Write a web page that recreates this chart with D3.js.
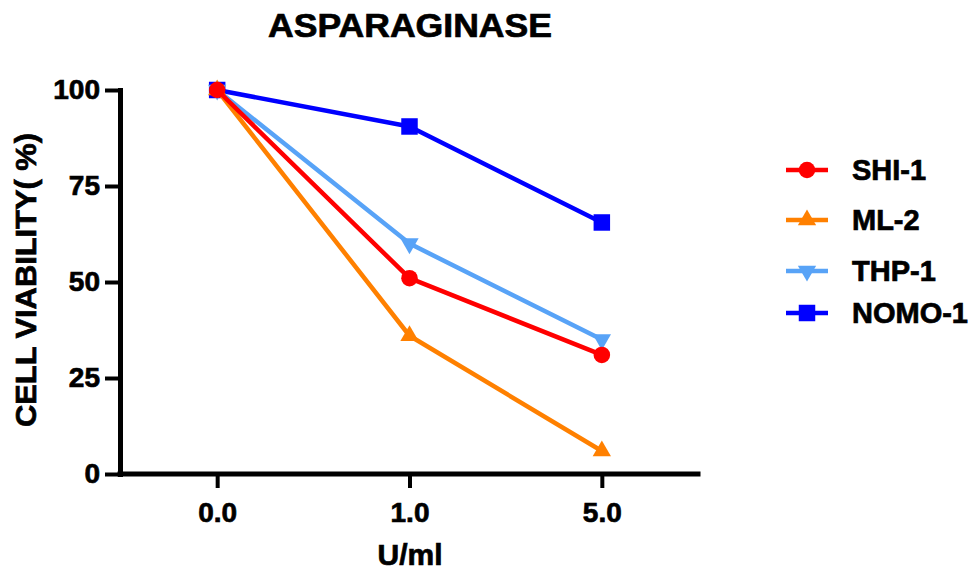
<!DOCTYPE html>
<html>
<head>
<meta charset="utf-8">
<script src="https://cdn.jsdelivr.net/npm/d3@7"></script>
<style>
  html, body { margin: 0; padding: 0; background: #fff; }
  svg text { font-family: "Liberation Sans", Arial, sans-serif; font-weight: bold; fill: #000; stroke: #000; stroke-width: 0.7px; }
</style>
</head>
<body>
<svg id="chart" width="973" height="571"></svg>
<script>
// Doses (U/ml) shown as evenly spaced categories
const doses = ["0.0", "1.0", "5.0"];
const yTicks = [0, 25, 50, 75, 100];

// Cell viability (%) per cell line
const series = ["SHI-1", "ML-2", "THP-1", "NOMO-1"];
const shi1  = [100, 51, 31];
const ml2   = [100, 36, 6];
const thp1  = [100, 60, 35];
const nomo1 = [100, 90.5, 65.5];
const values = [shi1, ml2, thp1, nomo1];

const colors  = ["#ff0000", "#ff8000", "#58a3f7", "#0000ff"];
const symbols = ["circle", "triangle", "triangleDown", "square"];

const svg = d3.select("#chart");

const x = d3.scalePoint().domain(doses).range([121, 698]).padding(0.5);
const y = d3.scaleLinear().domain([0, 100]).range([474, 90]);

function symbolPath(kind) {
  if (kind === "circle") return d3.symbol(d3.symbolCircle, 215)();
  if (kind === "square") return d3.symbol(d3.symbolSquare, 272)();
  return d3.symbol(d3.symbolTriangle, 145)();
}
function symbolTransform(kind, px, py) {
  return kind === "triangleDown" ? `translate(${px},${py}) rotate(180)` : `translate(${px},${py})`;
}

// Axes
const yAxis = svg.append("g")
  .attr("transform", "translate(120,0)")
  .call(d3.axisLeft(y).tickValues(yTicks).tickSize(15).tickSizeOuter(0).tickPadding(5));
const xAxis = svg.append("g")
  .attr("transform", "translate(0,474)")
  .call(d3.axisBottom(x).tickSize(14).tickSizeOuter(0).tickPadding(14));

[yAxis, xAxis].forEach(g => {
  g.select(".domain").attr("stroke", "#000").attr("stroke-width", 5).attr("stroke-linecap", "square");
  g.selectAll(".tick line").attr("stroke", "#000").attr("stroke-width", 4);
  g.selectAll(".tick text").attr("font-size", 28).attr("font-family", "Liberation Sans, Arial, sans-serif")
    .attr("font-weight", "bold").attr("fill", "#000");
});
// x axis domain starts at the y axis
xAxis.select(".domain").attr("d", `M120,0H${x.range()[1]}`);

// Series lines and markers, last series drawn first so SHI-1 sits on top
const line = d3.line().x((d, i) => x(doses[i])).y(d => y(d));
const order = d3.range(series.length).reverse();
order.forEach(s => {
  const g = svg.append("g").attr("class", "series");
  g.append("path")
    .attr("d", line(values[s]))
    .attr("fill", "none")
    .attr("stroke", colors[s])
    .attr("stroke-width", 4.5)
    .attr("stroke-linejoin", "round");
  g.selectAll("path.marker")
    .data(values[s])
    .join("path")
    .attr("class", "marker")
    .attr("d", symbolPath(symbols[s]))
    .attr("transform", (d, i) => symbolTransform(symbols[s], x(doses[i]), y(d)))
    .attr("fill", colors[s]);
});

// Title and axis titles
svg.append("text")
  .attr("x", 410).attr("y", 37)
  .attr("text-anchor", "middle")
  .attr("font-size", 33)
  .attr("textLength", 284).attr("lengthAdjust", "spacingAndGlyphs")
  .text("ASPARAGINASE");

svg.append("text")
  .attr("x", 410).attr("y", 565)
  .attr("text-anchor", "middle")
  .attr("font-size", 30)
  .text("U/ml");

svg.append("text")
  .attr("transform", "translate(36,280) rotate(-90)")
  .attr("text-anchor", "middle")
  .attr("font-size", 29)
  .attr("textLength", 294).attr("lengthAdjust", "spacingAndGlyphs")
  .text("CELL VIABILITY( %)");

// Legend
const legendRows = [170, 220, 271, 313];
const legend = svg.append("g");
series.forEach((name, s) => {
  const row = legend.append("g").attr("transform", `translate(0,${legendRows[s]})`);
  row.append("line")
    .attr("x1", 786).attr("x2", 828)
    .attr("stroke", colors[s]).attr("stroke-width", 4.5);
  row.append("path")
    .attr("d", symbolPath(symbols[s]))
    .attr("transform", symbolTransform(symbols[s], 807, 0))
    .attr("fill", colors[s]);
  row.append("text")
    .attr("x", 852).attr("y", 0)
    .attr("dy", "0.36em")
    .attr("font-size", 29)
    .text(name);
});
</script>
</body>
</html>
